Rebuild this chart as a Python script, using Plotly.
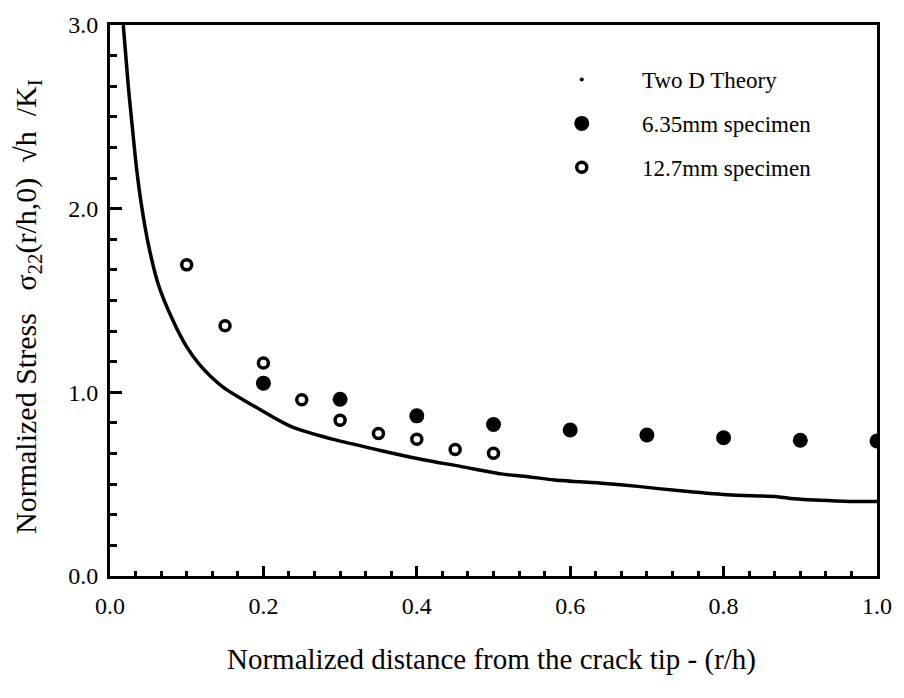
import plotly.graph_objects as go

# --- data ---
theory_x = [0.0173, 0.0238, 0.028, 0.0346, 0.041, 0.0498, 0.0628, 0.080, 0.0996,
            0.117, 0.147, 0.19, 0.238, 0.29, 0.351, 0.405, 0.457, 0.51, 0.54,
            0.58, 0.645, 0.688, 0.74, 0.805, 0.87, 0.892, 0.957, 1.0]
theory_y = [3.0, 2.67, 2.49, 2.22, 2.02, 1.81, 1.59, 1.41, 1.25,
            1.15, 1.03, 0.92, 0.81, 0.745, 0.685, 0.636, 0.597, 0.556, 0.543,
            0.523, 0.504, 0.488, 0.465, 0.442, 0.432, 0.42, 0.407, 0.405]

thin_x = [0.2, 0.3, 0.4, 0.5, 0.6, 0.7, 0.8, 0.9, 1.0]
thin_y = [1.05, 0.962, 0.872, 0.825, 0.795, 0.768, 0.753, 0.739, 0.735]

thick_x = [0.1, 0.15, 0.2, 0.25, 0.3, 0.35, 0.4, 0.45, 0.5]
thick_y = [1.694, 1.362, 1.16, 0.96, 0.848, 0.776, 0.744, 0.689, 0.668]

x_ticks = [0.0, 0.2, 0.4, 0.6, 0.8, 1.0]
y_ticks = [0.0, 1.0, 2.0, 3.0]

FONT = "Liberation Serif"
PAD = "\u00a0" * 7
NB = "\u00a0"

fig = go.Figure()

# theory curve (legend shows a tiny dot instead of a line)
fig.add_trace(go.Scatter(
    x=theory_x, y=theory_y, mode="lines",
    line=dict(color="black", width=3.5, shape="spline", smoothing=0.8),
    showlegend=False,
))
fig.add_trace(go.Scatter(
    x=[None], y=[None], mode="markers", name=PAD + "Two D Theory",
    marker=dict(color="black", size=4),
    legendgroup="a",
))
fig.add_trace(go.Scatter(
    x=thin_x, y=thin_y, mode="markers", name=PAD + "6.35mm specimen",
    marker=dict(color="black", size=15, symbol="circle"),
    legendgroup="b",
))
fig.add_trace(go.Scatter(
    x=thick_x, y=thick_y, mode="markers", name=PAD + "12.7mm specimen",
    marker=dict(color="white", size=10, symbol="circle",
                line=dict(color="black", width=3.5)),
    legendgroup="c",
))

fig.update_layout(
    width=904, height=698,
    margin=dict(l=110, r=24, t=21, b=122),
    paper_bgcolor="white",
    plot_bgcolor="white",
    font=dict(family=FONT, color="black", size=22),
    legend=dict(
        x=0.589, y=0.94, xanchor="left", yanchor="top",
        font=dict(family=FONT, size=23, color="black"),
        bgcolor="rgba(0,0,0,0)",
        tracegroupgap=11,
        itemwidth=30,
    ),
    annotations=[
        dict(
            text="Normalized distance from the crack tip - (r/h)",
            xref="paper", yref="paper", x=0.497, y=-0.151,
            xanchor="center", yanchor="middle", showarrow=False,
            font=dict(family=FONT, size=29, color="black"),
        ),
        dict(
            text=("Normalized Stress" + NB * 3 + "\u03c3<sub>22</sub>(r/h,0)"
                  + NB * 2 + "\u221ah" + NB * 2 + "/K<sub>I</sub>"),
            xref="paper", yref="paper", x=-0.107, y=0.49,
            xanchor="center", yanchor="middle", showarrow=False, textangle=-90,
            font=dict(family=FONT, size=30, color="black"),
        ),
    ],
)

fig.update_xaxes(
    range=[0, 1.0],
    tickvals=x_ticks,
    ticktext=[f"{v:.1f}" for v in x_ticks],
    ticks="inside", ticklen=10, tickwidth=3, tickcolor="black",
    minor=dict(dtick=0.2 / 6, tick0=0, ticks="inside", ticklen=5,
               tickwidth=3, tickcolor="black", showgrid=False),
    showline=True, linewidth=3, linecolor="black", mirror=True,
    showgrid=False, zeroline=False,
    tickfont=dict(family=FONT, size=24, color="black"),
    ticklabelstandoff=6,
)
fig.update_yaxes(
    range=[0, 3.0],
    tickvals=y_ticks,
    ticktext=[f"{v:.1f}" for v in y_ticks],
    ticks="inside", ticklen=12, tickwidth=3, tickcolor="black",
    minor=dict(dtick=1 / 6, tick0=0, ticks="inside", ticklen=7,
               tickwidth=3, tickcolor="black", showgrid=False),
    showline=True, linewidth=3, linecolor="black", mirror=True,
    showgrid=False, zeroline=False,
    tickfont=dict(family=FONT, size=24, color="black"),
    ticklabelstandoff=4,
)

fig.write_html("out.html", config={"displayModeBar": False},
               post_script="document.body.style.margin='0';")
